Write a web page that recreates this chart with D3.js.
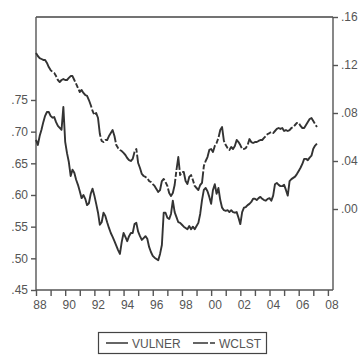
<!DOCTYPE html>
<html>
<head>
<meta charset="utf-8">
<script src="https://cdn.jsdelivr.net/npm/d3@7"></script>
<style>
  html, body { margin: 0; padding: 0; background: #fff; }
  svg { display: block; }
  text { font-family: "Liberation Sans", Arial, sans-serif; font-size: 12px; fill: #555; }
</style>
</head>
<body>
<svg id="chart" width="360" height="355"></svg>
<script>
// Sampling grid: observations every 1/8 year starting 1988
const startYear = 1988;
const stepYears = 0.125;

// VULNER (left axis)
const vulner = [
  .687,.679,.693,.703,.715,.725,.731,.731,.725,.722,.723,.715,.709,.706,.703,.739,
  .684,.666,.652,.630,.640,.635,.624,.616,.606,.595,.600,.594,.584,.587,.602,.610,
  .599,.586,.572,.553,.557,.572,.567,.557,.548,.540,.534,.527,.520,.513,.507,.526,
  .540,.534,.527,.535,.540,.540,.554,.556,.542,.535,.529,.532,.535,.531,.518,.510,
  .504,.501,.499,.497,.507,.521,.572,.572,.564,.562,.570,.591,.573,.565,.557,.556,
  .553,.550,.548,.546,.551,.546,.550,.546,.551,.556,.570,.592,.608,.611,.606,.597,
  .586,.608,.617,.602,.611,.592,.580,.576,.575,.576,.573,.576,.573,.572,.573,.564,
  .554,.573,.580,.581,.584,.586,.589,.594,.594,.592,.595,.597,.594,.592,.591,.594,
  .595,.591,.599,.617,.619,.616,.614,.614,.616,.608,.599,.622,.625,.627,.629,.633,
  .638,.643,.649,.657,.657,.655,.659,.662,.673,.678,.681
];

// WCLST (right axis)
const wclst = [
  .1300,.1275,.1258,.1250,.1242,.1242,.1217,.1183,.1158,.1142,.1133,.1108,.1075,.1058,.1075,.1083,
  .1075,.1075,.1092,.1108,.1108,.1075,.1042,.1008,.0975,.0992,.0967,.0950,.0942,.0908,.0867,.0817,
  .0783,.0800,.0758,.0625,.0567,.0558,.0575,.0575,.0608,.0633,.0658,.0608,.0533,.0508,.0492,.0483,
  .0467,.0450,.0425,.0408,.0400,.0417,.0475,.0500,.0383,.0342,.0292,.0275,.0267,.0258,.0233,.0225,
  .0208,.0192,.0167,.0142,.0158,.0233,.0250,.0225,.0192,.0133,.0108,.0133,.0200,.0325,.0433,.0283,
  .0308,.0308,.0233,.0208,.0267,.0283,.0242,.0192,.0175,.0158,.0200,.0217,.0358,.0400,.0433,.0492,
  .0500,.0475,.0525,.0550,.0592,.0658,.0683,.0567,.0533,.0508,.0492,.0517,.0500,.0525,.0575,.0558,
  .0533,.0500,.0500,.0508,.0533,.0583,.0558,.0550,.0558,.0558,.0567,.0575,.0575,.0592,.0608,.0625,
  .0633,.0642,.0633,.0650,.0667,.0675,.0667,.0675,.0650,.0658,.0650,.0658,.0675,.0683,.0700,.0717,
  .0717,.0692,.0675,.0675,.0700,.0725,.0750,.0758,.0733,.0708,.0683
];

// Axis ticks and labels
const leftTicks = [.45, .50, .55, .60, .65, .70, .75];
const rightTicks = [.00, .04, .08, .12, .16];
const yearTicks = d3.range(1988, 2009);
const yearLabels = ["88","90","92","94","96","98","00","02","04","06","08"];
const seriesNames = ["VULNER", "WCLST"];

const svg = d3.select("#chart");
const plot = { left: 36, right: 333, top: 17, bottom: 290 };

const x = d3.scaleLinear().domain([1988, 2008.35]).range([plot.left, plot.right]);
const yL = d3.scaleLinear().domain([.45, .881]).range([plot.bottom, plot.top]);
const yR = d3.scaleLinear().domain([-0.0675, .16]).range([plot.bottom, plot.top]);

const fmt = d => d3.format(".2f")(d).replace(/^0/, "");
const axisColor = "#555";

// Frame: top edge
svg.append("line")
  .attr("x1", plot.left).attr("x2", plot.right)
  .attr("y1", plot.top).attr("y2", plot.top)
  .attr("stroke", "#444").attr("stroke-width", 1.4);

// Left axis
const gL = svg.append("g").attr("transform", `translate(${plot.left},0)`)
  .call(d3.axisLeft(yL).tickValues(leftTicks).tickFormat(fmt).tickSize(5).tickPadding(3));
gL.select(".domain").remove();
gL.append("line").attr("x1", 0).attr("x2", 0).attr("y1", plot.top).attr("y2", plot.bottom)
  .attr("stroke", axisColor).attr("stroke-width", 1.4);

// Right axis
const gR = svg.append("g").attr("transform", `translate(${plot.right},0)`)
  .call(d3.axisRight(yR).tickValues(rightTicks).tickFormat(fmt).tickSize(5).tickPadding(3));
gR.select(".domain").remove();
gR.append("line").attr("x1", 0).attr("x2", 0).attr("y1", plot.top).attr("y2", plot.bottom)
  .attr("stroke", axisColor).attr("stroke-width", 1.4);

// Bottom axis: yearly ticks, labels every second year
const gB = svg.append("g").attr("transform", `translate(0,${plot.bottom})`)
  .call(d3.axisBottom(x).tickValues(yearTicks).tickFormat("").tickSize(6));
gB.select(".domain").remove();
gB.append("line").attr("x1", plot.left).attr("x2", plot.right).attr("y1", 0).attr("y2", 0)
  .attr("stroke", axisColor).attr("stroke-width", 1.4);
gB.selectAll(".yearLabel").data(yearLabels).join("text")
  .attr("class", "yearLabel")
  .attr("x", (d, i) => x(1988 + 2 * i) + 4)
  .attr("y", 19)
  .attr("text-anchor", "middle")
  .text(d => d);

[gL, gR, gB].forEach(g => {
  g.selectAll(".tick line").attr("stroke", axisColor).attr("stroke-width", 1.4);
  g.selectAll("text").style("font-family", '"Liberation Sans", Arial, sans-serif')
    .style("font-size", "12px").attr("fill", "#555");
});

// Series lines
const years = vulner.map((_, i) => startYear + i * stepYears);
const lineL = d3.line().x((d, i) => x(years[i])).y(d => yL(d));
const lineR = d3.line().x((d, i) => x(years[i])).y(d => yR(d));
const wDash = "26,2,5,2";

svg.append("path").datum(vulner)
  .attr("d", lineL).attr("fill", "none")
  .attr("stroke", "#333").attr("stroke-width", 1.9).attr("stroke-linejoin", "round");
svg.append("path").datum(wclst)
  .attr("d", lineR).attr("fill", "none")
  .attr("stroke", "#333").attr("stroke-width", 1.9).attr("stroke-linejoin", "round")
  .attr("stroke-dasharray", wDash);

// Legend
const lg = svg.append("g");
lg.append("rect").attr("x", 98.5).attr("y", 332.5).attr("width", 168).attr("height", 21)
  .attr("fill", "none").attr("stroke", "#444").attr("stroke-width", 1.2);
const items = [
  { name: seriesNames[0], x0: 106, dash: null },
  { name: seriesNames[1], x0: 193, dash: "15,2,5,2" }
];
items.forEach(it => {
  lg.append("line").attr("x1", it.x0).attr("x2", it.x0 + 22).attr("y1", 343).attr("y2", 343)
    .attr("stroke", "#333").attr("stroke-width", 1.5).attr("stroke-dasharray", it.dash);
  lg.append("text").attr("x", it.x0 + 26).attr("y", 347.5).text(it.name);
});
</script>
</body>
</html>
